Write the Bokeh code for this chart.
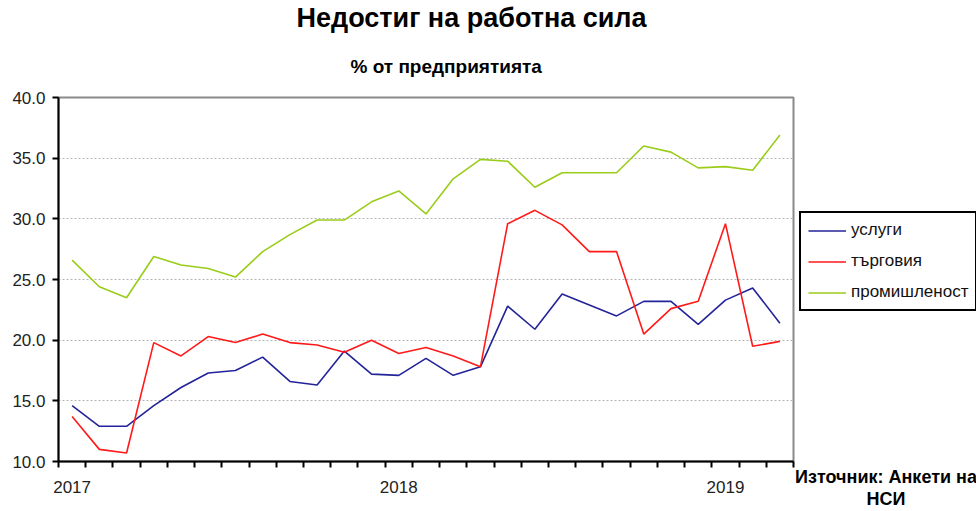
from bokeh.plotting import figure
from bokeh.layouts import row
from bokeh.models import (Range1d, FixedTicker, Legend, LegendItem, LinearAxis,
                          NumeralTickFormatter, Title)
from bokeh.embed import file_html
from bokeh.resources import INLINE

months = ["01.2017", "02.2017", "03.2017", "04.2017", "05.2017", "06.2017",
          "07.2017", "08.2017", "09.2017", "10.2017", "11.2017", "12.2017",
          "01.2018", "02.2018", "03.2018", "04.2018", "05.2018", "06.2018",
          "07.2018", "08.2018", "09.2018", "10.2018", "11.2018", "12.2018",
          "01.2019", "02.2019", "03.2019"]
year_labels = {"01.2017": "2017", "01.2018": "2018", "01.2019": "2019"}

services = [14.6, 12.9, 12.9, 14.6, 16.1, 17.3, 17.5, 18.6, 16.6, 16.3, 19.1,
            17.2, 17.1, 18.5, 17.1, 17.8, 22.8, 20.9, 23.8, 22.9, 22.0, 23.2,
            23.2, 21.3, 23.3, 24.3, 21.4]
trade = [13.7, 11.0, 10.7, 19.8, 18.7, 20.3, 19.8, 20.5, 19.8, 19.6, 19.0,
         20.0, 18.9, 19.4, 18.7, 17.8, 29.6, 30.7, 29.5, 27.3, 27.3, 20.5,
         22.6, 23.2, 29.6, 19.5, 19.9]
industry = [26.6, 24.4, 23.5, 26.9, 26.2, 25.9, 25.2, 27.3, 28.7, 29.9, 29.9,
            31.4, 32.3, 30.4, 33.3, 34.9, 34.75, 32.6, 33.8, 33.8, 33.8, 36.0,
            35.5, 34.2, 34.3, 34.0, 36.9]

series_names = ["услуги", "търговия", "промишленост"]
series_colors = ["#23239a", "#ff1a1a", "#9acd1a"]
y_ticks = [10, 15, 20, 25, 30, 35, 40]

title_text = "Недостиг на работна сила"
subtitle_text = "% от предприятията"
source_text = "Източник: Анкети на\nНСИ"

FONT = "Liberation Sans"
H = 511
TOP, BOTTOM = 97, 50

n = len(months)
xs = [i + 0.5 for i in range(n)]
all_series = [services, trade, industry]

p = figure(frame_width=735, frame_height=364,
           min_border_left=58, min_border_right=2,
           min_border_top=TOP, min_border_bottom=BOTTOM,
           x_range=Range1d(0, n), y_range=Range1d(y_ticks[0], y_ticks[-1]),
           output_backend="svg", toolbar_location=None,
           background_fill_color="white", border_fill_color="white")

p.outline_line_color = "#8a8a8a"
p.outline_line_width = 2

# x axis
label_pos = [xs[i] for i, m in enumerate(months) if m in year_labels]
p.xaxis.ticker = FixedTicker(ticks=label_pos, minor_ticks=list(range(n + 1)))
p.xaxis.major_label_overrides = {xs[i]: year_labels[m]
                                 for i, m in enumerate(months) if m in year_labels}
p.xaxis.major_tick_out = 0
p.xaxis.major_tick_in = 0
p.xaxis.minor_tick_out = 6
p.xaxis.minor_tick_in = 0
p.xaxis.minor_tick_line_color = "black"
p.xaxis.minor_tick_line_width = 2
p.xaxis.axis_line_color = "black"
p.xaxis.axis_line_width = 2
p.xaxis.major_label_standoff = 13
p.xaxis.major_label_text_font = FONT
p.xaxis.major_label_text_font_size = "17px"
p.xaxis.major_label_text_color = "#222222"

# y axis
p.yaxis.ticker = FixedTicker(ticks=y_ticks)
p.yaxis.formatter = NumeralTickFormatter(format="0.0")
p.yaxis.major_tick_out = 6
p.yaxis.major_tick_in = 0
p.yaxis.major_tick_line_color = "black"
p.yaxis.major_tick_line_width = 2
p.yaxis.minor_tick_line_color = None
p.yaxis.axis_line_color = "black"
p.yaxis.axis_line_width = 2
p.yaxis.major_label_standoff = 7
p.yaxis.major_label_text_font = FONT
p.yaxis.major_label_text_font_size = "17px"
p.yaxis.major_label_text_color = "#222222"

p.xgrid.grid_line_color = None
p.ygrid.ticker = FixedTicker(ticks=y_ticks)
p.ygrid.grid_line_color = "#b4b4b4"
p.ygrid.grid_line_dash = "2 2"
p.ygrid.grid_line_width = 1

for vals, col in zip(all_series, series_colors):
    p.line(xs, vals, line_color=col, line_width=1.6)

# titles
p.title = Title(text=title_text, align="left", offset=238,
                text_font=FONT, text_font_style="bold", text_font_size="27px",
                text_color="black", standoff=0)
p.add_layout(Title(text=subtitle_text, align="left", offset=292,
                   text_font=FONT, text_font_style="bold",
                   text_font_size="19px", text_color="black", standoff=42),
             "above")

# side panel: legend and source note
side = figure(width=976 - 795, height=H,
              min_border_left=0, min_border_right=0,
              min_border_top=TOP, min_border_bottom=BOTTOM,
              x_range=Range1d(-2, -1), y_range=Range1d(y_ticks[0], y_ticks[-1]),
              x_axis_type=None, y_axis_type=None,
              output_backend="svg", toolbar_location=None,
              background_fill_color="white", border_fill_color="white")
side.outline_line_color = None
side.xgrid.grid_line_color = None
side.ygrid.grid_line_color = None

items = []
for name, vals, col in zip(series_names, all_series, series_colors):
    # same data, outside the side panel's visible range: only the legend key shows
    r = side.line(xs, vals, line_color=col, line_width=1.6)
    items.append(LegendItem(label=name, renderers=[r]))

legend = Legend(items=items, location=(4, 149),
                border_line_color="black", border_line_width=2,
                border_line_alpha=1.0,
                background_fill_color="white", background_fill_alpha=1.0,
                label_text_font=FONT, label_text_font_size="17px",
                label_text_color="#111111",
                glyph_width=38, glyph_height=19, label_height=19,
                label_standoff=5, spacing=11, padding=7, margin=0)
side.add_layout(legend, "center")

src_axis = LinearAxis(ticker=FixedTicker(ticks=[]), axis_label=source_text,
                      axis_line_color=None, major_tick_line_color=None,
                      minor_tick_line_color=None,
                      major_label_text_font_size="0px",
                      axis_label_standoff=6,
                      axis_label_text_font=FONT,
                      axis_label_text_font_style="bold",
                      axis_label_text_font_size="18px",
                      axis_label_text_line_height=1.1,
                      axis_label_text_color="black")
side.add_layout(src_axis, "below")

layout = row(p, side)
open("out.html", "w").write(file_html(layout, INLINE))
